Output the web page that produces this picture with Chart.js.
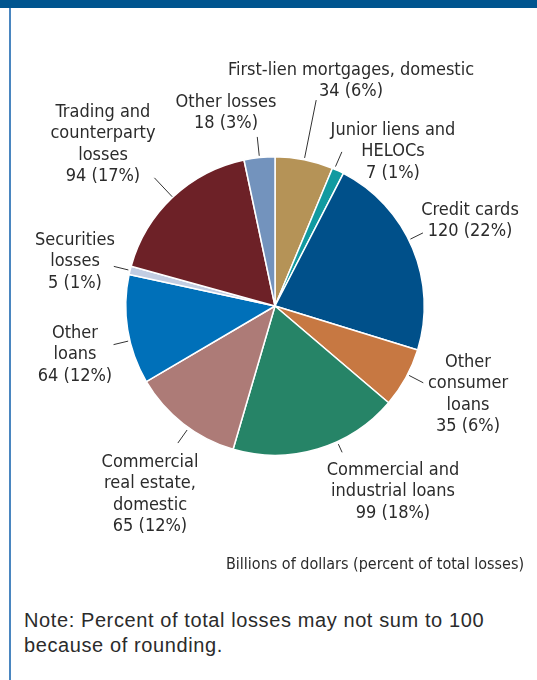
<!DOCTYPE html>
<html>
<head>
<meta charset="utf-8">
<script src="https://cdn.jsdelivr.net/npm/chart.js@4.4.1/dist/chart.umd.min.js"></script>
<style>
  html, body { margin: 0; padding: 0; background: #fff; }
  #page { position: relative; width: 537px; height: 680px; overflow: hidden; background: #fff; }
  #topbar { position: absolute; left: 0; top: 0; width: 537px; height: 8px; background: #00558f; }
  #leftline { position: absolute; left: 9px; top: 8px; width: 2px; height: 672px; background: #4a86c0; }
  #wrap { position: absolute; left: 0; top: 0; width: 537px; height: 600px; }
  #note { position: absolute; left: 24px; top: 608px; font-family: "Liberation Sans", Arial, sans-serif;
          font-size: 20px; line-height: 25px; letter-spacing: 0.6px; color: #2b2b2b; }
</style>
</head>
<body>
<div id="page">
  <div id="topbar"></div>
  <div id="leftline"></div>
  <div id="wrap"><canvas id="pie"></canvas></div>
  <div id="note">Note: Percent of total losses may not sum to 100<br>because of rounding.</div>
</div>
<script>
// loss categories, clockwise from 12 o'clock
const categories = [
  ["First-lien mortgages, domestic"],
  ["Junior liens and", "HELOCs"],
  ["Credit cards"],
  ["Other", "consumer", "loans"],
  ["Commercial and", "industrial loans"],
  ["Commercial", "real estate,", "domestic"],
  ["Other", "loans"],
  ["Securities", "losses"],
  ["Trading and", "counterparty", "losses"],
  ["Other losses"]
];
const lossValues = [34, 7, 120, 35, 99, 65, 64, 5, 94, 18];
const lossPercents = [6, 1, 22, 6, 18, 12, 12, 1, 17, 3];
const sliceColors = ["#b59357", "#119aa0", "#00508a", "#c77842", "#268467",
                     "#ad7b77", "#0070b9", "#c2cde2", "#6d2127", "#7393bd"];

// label placement: leader angle shift (deg), leader radii, text centre x, first line y
const labelLayout = [
  { shift: 0,    r1: 151, r2: 210, x: 351, y: 70 },
  { shift: -1.5, r1: 152, r2: 168, x: 393, y: 130 },
  { shift: -3.5, r1: 151, r2: 165, x: 470, y: 210 },
  { shift: -1.4, r1: 151, r2: 167, x: 468, y: 362 },
  { shift: -8,   r1: 152, r2: 161, x: 393, y: 470 },
  { shift: -2.6, r1: 152, r2: 168, x: 150, y: 462 },
  { shift: -4.3, r1: 151, r2: 166, x: 75,  y: 333 },
  { shift: 0,    r1: 151, r2: 166, x: 75,  y: 240 },
  { shift: 0,    r1: 150, r2: 176, x: 103, y: 112 },
  { shift: 0,    r1: 151, r2: 170, x: 226, y: 102 }
];
const labelFont = '18px "DejaVu Sans Condensed", "Liberation Sans", sans-serif';
const lineGap = 21.5;

const labelPlugin = {
  id: "sliceLabels",
  afterDraw(chart) {
    const ctx = chart.ctx;
    const arcs = chart.getDatasetMeta(0).data;
    ctx.save();
    arcs.forEach((arc, i) => {
      const lay = labelLayout[i];
      const a = (arc.startAngle + arc.endAngle) / 2 + lay.shift * Math.PI / 180;
      ctx.strokeStyle = "#333";
      ctx.lineWidth = 1;
      ctx.beginPath();
      ctx.moveTo(arc.x + Math.cos(a) * lay.r1, arc.y + Math.sin(a) * lay.r1);
      ctx.lineTo(arc.x + Math.cos(a) * lay.r2, arc.y + Math.sin(a) * lay.r2);
      ctx.stroke();

      const lines = categories[i].concat([lossValues[i] + " (" + lossPercents[i] + "%)"]);
      ctx.fillStyle = "#2b2b2b";
      ctx.font = labelFont;
      ctx.textAlign = "center";
      ctx.textBaseline = "middle";
      lines.forEach((t, k) => ctx.fillText(t, lay.x, lay.y + k * lineGap));
    });
    ctx.font = '16px "DejaVu Sans Condensed", "Liberation Sans", sans-serif';
    ctx.textAlign = "right";
    ctx.fillText("Billions of dollars (percent of total losses)", 524, 565);
    ctx.restore();
  }
};

new Chart(document.getElementById("pie"), {
  type: "pie",
  data: {
    labels: categories.map(c => c.join(" ")),
    datasets: [{
      data: lossValues,
      backgroundColor: sliceColors,
      borderColor: "#ffffff",
      borderWidth: 1.5
    }]
  },
  options: {
    responsive: true,
    maintainAspectRatio: false,
    animation: false,
    layout: { padding: { left: 125, right: 112, top: 156, bottom: 144 } },
    plugins: { legend: { display: false }, tooltip: { enabled: false } }
  },
  plugins: [labelPlugin]
});
</script>
</body>
</html>
